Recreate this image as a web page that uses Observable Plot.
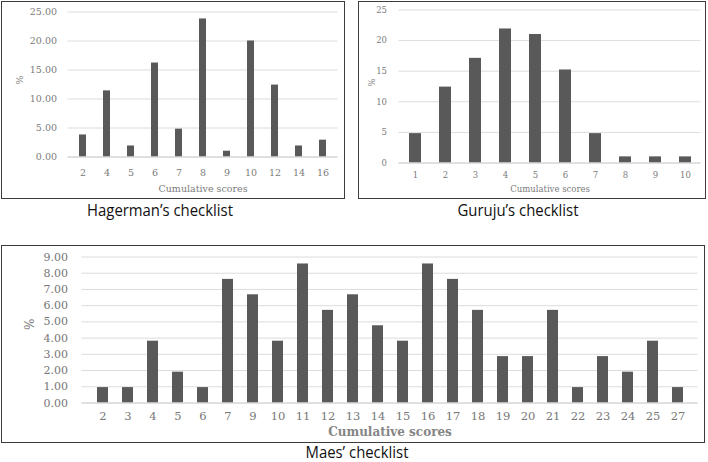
<!DOCTYPE html>
<html><head><meta charset="utf-8">
<script src="https://cdn.jsdelivr.net/npm/d3@7"></script>
<script src="https://cdn.jsdelivr.net/npm/@observablehq/plot@0.6"></script>
<style>
body{margin:0;background:#fff;}
#wrap{position:relative;width:708px;height:462px;overflow:hidden;background:#fff}
.box{position:absolute;border:1.5px solid #3c3c3c;box-sizing:border-box;background:#fff}
.box svg{position:absolute;left:0;top:0}
.cap{position:absolute;font-family:"Open Sans";font-size:16px;color:#111;white-space:nowrap;transform:translate(-50%,-50%) scaleX(0.93);line-height:1}
</style></head><body>
<div id="wrap"></div>
<script>
// ---- data ----
const hagScores = ["2","4","5","6","7","8","9","10","12","14","16"];
const hagPct = [3.8, 11.4, 1.9, 16.2, 4.8, 23.8, 1.0, 20.0, 12.4, 1.9, 2.9];
const gurScores = ["1","2","3","4","5","6","7","8","9","10"];
const gurPct = [4.8, 12.4, 17.1, 21.9, 21.0, 15.2, 4.8, 1.0, 1.0, 1.0];
const maesScores = ["2","3","4","5","6","7","9","10","11","12","13","14","15","16","17","18","19","20","21","22","23","24","25","27"];
const maesPct = [0.95, 0.95, 3.81, 1.90, 0.95, 7.62, 6.67, 3.81, 8.57, 5.71, 6.67, 4.76, 3.81, 8.57, 7.62, 5.71, 2.86, 2.86, 5.71, 0.95, 2.86, 1.90, 3.81, 0.95];
const hagTicks = [0, 5, 10, 15, 20, 25];
const gurTicks = [0, 5, 10, 15, 20, 25];
const maesTicks = [0, 1, 2, 3, 4, 5, 6, 7, 8, 9];
const xTitle = "Cumulative scores";
const yTitle = "%";
const captions = ["Hagerman’s checklist", "Guruju’s checklist", "Maes’ checklist"];

const wrap = document.getElementById("wrap");

function panel(cfg) {
  const data = cfg.scores.map((s, i) => ({score: s, pct: cfg.pct[i]}));
  const box = document.createElement("div");
  box.className = "box";
  Object.assign(box.style, {left: cfg.left + "px", top: cfg.top + "px", width: cfg.w + "px", height: cfg.h + "px"});
  const W = cfg.w - 3, H = cfg.h - 3;
  const chart = Plot.plot({
    width: W, height: H,
    marginLeft: cfg.ml, marginRight: cfg.mr, marginTop: cfg.mt, marginBottom: cfg.mb,
    style: {fontFamily: "DejaVu Serif", fontSize: cfg.fs + "px", color: cfg.color, background: "transparent", overflow: "visible"},
    x: {type: "band", domain: cfg.scores, paddingInner: cfg.pad, paddingOuter: cfg.pad / 2, align: 0.5},
    y: {domain: [0, cfg.ymax]},
    marks: [
      Plot.gridY(cfg.ticks, {stroke: "#dcdcdc", strokeOpacity: 1}),
      Plot.barY(data, {x: "score", y: "pct", fill: "#595959"}),
      Plot.ruleY([0], {stroke: "#d2d2d2"}),
      Plot.axisY(cfg.ticks, {tickSize: 0, tickPadding: cfg.ytp, tickFormat: cfg.fmt, label: null, fontSize: cfg.fs}),
      Plot.axisX({tickSize: 0, tickPadding: cfg.xtp, label: null, fontSize: cfg.xfs}),
      Plot.text([yTitle], {frameAnchor: "left", dx: cfg.ydx, rotate: -90, lineAnchor: "middle", fontSize: cfg.tfs, fill: "currentColor"}),
      Plot.text([xTitle], {frameAnchor: "bottom", dy: cfg.xdy, lineAnchor: "middle", fontSize: cfg.tfs, fill: cfg.tcolor || "currentColor", fontWeight: cfg.tfw || "normal"})
    ]
  });
  box.appendChild(chart);
  wrap.appendChild(box);
}

panel({scores: hagScores, pct: hagPct, ticks: hagTicks, ymax: 25, fmt: d3.format(".2f"),
  left: 1, top: 1, w: 344, h: 198, ml: 65.5, mr: 5.5, mt: 9.5, mb: 40.5, pad: 0.69,
  fs: 9.5, xfs: 9.5, tfs: 9.5, ytp: 11, xtp: 12.5, ydx: -48, xdy: 32, color: "#7b7b7b"});

panel({scores: gurScores, pct: gurPct, ticks: gurTicks, ymax: 25, fmt: d3.format("d"),
  left: 358, top: 1, w: 348, h: 198, ml: 39.5, mr: 3.5, mt: 7.5, mb: 34.5, pad: 0.6,
  fs: 8.5, xfs: 8.5, tfs: 8.5, ytp: 12, xtp: 9, ydx: -27, xdy: 26, color: "#7b7b7b"});

panel({scores: maesScores, pct: maesPct, ticks: maesTicks, ymax: 9, fmt: d3.format(".2f"),
  left: 1, top: 245, w: 704, h: 198, ml: 79.5, mr: 5.5, mt: 10.5, mb: 38.5, pad: 0.58,
  fs: 11, xfs: 11.5, tfs: 12, ytp: 14, xtp: 8.5, ydx: -52, xdy: 29, color: "#767676", tcolor: "#858585", tfw: "bold"});

const capPos = [[160, 210], [518, 210], [357, 451.5]];
captions.forEach((c, i) => {
  const d = document.createElement("div");
  d.className = "cap";
  d.textContent = c;
  d.style.left = capPos[i][0] + "px";
  d.style.top = capPos[i][1] + "px";
  wrap.appendChild(d);
});
</script>
</body></html>
